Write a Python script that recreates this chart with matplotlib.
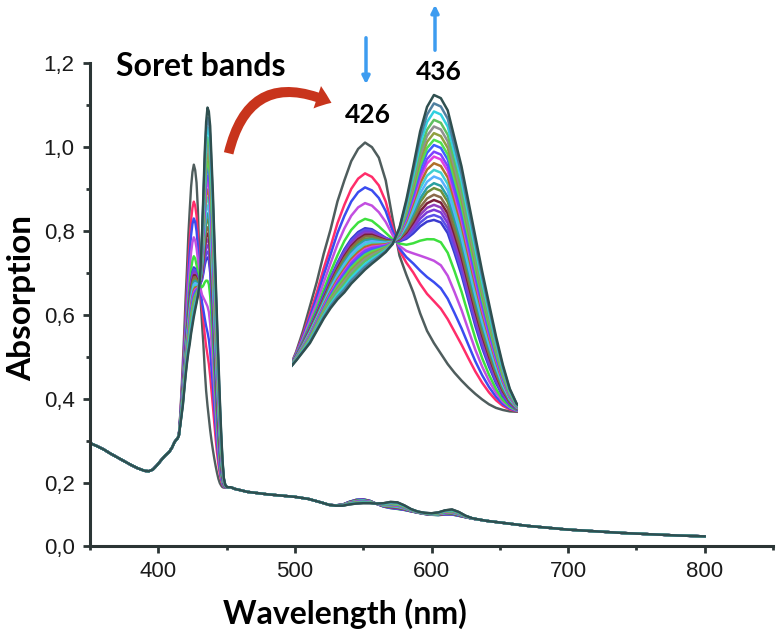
import numpy as np
import matplotlib
matplotlib.use("Agg")
import matplotlib.pyplot as plt
from matplotlib.patches import FancyArrowPatch

# ---- data ----
# common part of the spectrum left of the Soret band
wl_left = [350, 355, 360, 365, 370, 375, 380, 385, 390, 393, 396, 399, 402, 405, 408, 410, 412]
abs_left = [0.295, 0.288, 0.280, 0.270, 0.261, 0.252, 0.243, 0.235, 0.229, 0.228, 0.232,
            0.242, 0.254, 0.265, 0.274, 0.284, 0.298]

# Soret band, 1 nm steps: initial (grey), intermediate and final spectra
wl_soret = list(range(413, 453))
abs_initial = [0.302, 0.306, 0.312, 0.360, 0.420, 0.490, 0.560, 0.640, 0.710, 0.790,
               0.850, 0.905, 0.940, 0.958, 0.945, 0.915, 0.850, 0.740, 0.635, 0.580,
               0.530, 0.470, 0.420, 0.385, 0.355, 0.325, 0.300, 0.278, 0.258, 0.240,
               0.224, 0.210, 0.200, 0.194, 0.190, 0.189, 0.189, 0.189, 0.190, 0.190]
abs_middle = [0.302, 0.306, 0.312, 0.350, 0.390, 0.435, 0.480, 0.530, 0.580, 0.625,
              0.665, 0.695, 0.715, 0.725, 0.720, 0.705, 0.690, 0.678, 0.672, 0.672,
              0.680, 0.692, 0.700, 0.702, 0.695, 0.665, 0.610, 0.550, 0.480, 0.410,
              0.350, 0.300, 0.258, 0.225, 0.205, 0.194, 0.191, 0.190, 0.190, 0.190]
abs_final = [0.302, 0.306, 0.312, 0.335, 0.360, 0.385, 0.420, 0.455, 0.485, 0.510,
             0.530, 0.555, 0.575, 0.595, 0.612, 0.628, 0.645, 0.668, 0.715, 0.795,
             0.890, 0.990, 1.060, 1.094, 1.085, 1.050, 0.970, 0.890, 0.790, 0.690,
             0.590, 0.497, 0.405, 0.323, 0.255, 0.212, 0.196, 0.191, 0.190, 0.190]

# right of the Soret band (Q bands); the intermediate form has its own Q bands
wl_right = [453, 456, 460, 465, 470, 480, 490, 500, 510, 520, 525, 530, 535, 540, 545,
            550, 555, 560, 565, 570, 575, 580, 585, 590, 595, 600, 605, 610, 615, 620,
            625, 630, 640, 650, 660, 670, 680, 690, 700, 720, 740, 760, 780, 800]
abs_right = [0.190, 0.186, 0.183, 0.179, 0.177, 0.173, 0.170, 0.167, 0.162, 0.153,
             0.148, 0.146, 0.146, 0.149, 0.151, 0.152, 0.152, 0.151, 0.152, 0.155,
             0.154, 0.147, 0.138, 0.132, 0.129, 0.128, 0.130, 0.135, 0.137, 0.131,
             0.122, 0.116, 0.110, 0.106, 0.102, 0.098, 0.095, 0.092, 0.089, 0.085,
             0.081, 0.078, 0.075, 0.073]
abs_right_middle = [0.190, 0.186, 0.183, 0.179, 0.177, 0.173, 0.170, 0.167, 0.162, 0.153,
                    0.148, 0.147, 0.149, 0.156, 0.161, 0.162, 0.158, 0.150, 0.143, 0.139,
                    0.137, 0.135, 0.132, 0.129, 0.126, 0.124, 0.123, 0.124, 0.124, 0.121,
                    0.118, 0.115, 0.110, 0.106, 0.102, 0.098, 0.095, 0.092, 0.089, 0.085,
                    0.081, 0.078, 0.075, 0.073]

# peak heights of the titration curves
peak_426_first = [0.87, 0.83, 0.785, 0.74]          # red, blue, purple, green
peak_436_later = [0.737, 0.751, 0.766, 0.780, 0.794, 0.809, 0.828, 0.842, 0.861, 0.880,
                  0.899, 0.918, 0.932, 0.951, 0.966, 0.985, 1.004, 1.023, 1.047, 1.070, 1.094]

colors = ['#4f5d5d', '#ff2d6a', '#3a4cf0', '#c24ee0', '#3ee03e',
          '#3b3bd0', '#5a50e8', '#7a3ad8', '#9040c0', '#7a1f3a', '#8a6a4a', '#6f8f3a',
          '#2aa0a0', '#5ab0ff', '#40d0d0', '#b0702a', '#e040e0', '#8040ff', '#4060ff',
          '#50e050', '#90a040', '#909090', '#60c060', '#30d0e0', '#5080a0', '#2f4f4f']

xticks = [400, 500, 600, 700, 800]
yticks = [0.05, 0.2, 0.4, 0.6, 0.8, 1.0, 1.2]
ytick_labels = ['0,0', '0,2', '0,4', '0,6', '0,8', '1,0', '1,2']

# ---- build curves ----
wl = np.array(wl_left + wl_soret + wl_right, dtype=float)
spec_a = np.array(abs_left + abs_initial + abs_right)
spec_m = np.array(abs_left + abs_middle + abs_right_middle)
spec_b = np.array(abs_left + abs_final + abs_right)
i426 = int(np.where(wl == 426)[0][0])
i436 = int(np.where(wl == 436)[0][0])

curves = [spec_a]
for h in peak_426_first:
    g = (spec_a[i426] - h) / (spec_a[i426] - spec_m[i426])
    curves.append((1 - g) * spec_a + g * spec_m)
for h in peak_436_later:
    f = (h - spec_m[i436]) / (spec_b[i436] - spec_m[i436])
    curves.append((1 - f) * spec_m + f * spec_b)

W, H = 779, 641
fig = plt.figure(figsize=(W / 100, H / 100), dpi=100)


def fx(x):
    return x / W


def fy(y):
    return 1 - y / H


ax = fig.add_axes([fx(90), fy(546), fx(773) - fx(90), fy(63) - fy(546)])
for c, y in zip(colors, curves):
    ax.plot(wl, y, color=c, lw=1.7)

ax.set_xlim(350, 850)
ax.set_ylim(0.05, 1.2)
ax.set_xticks(xticks)
ax.set_xticks([350, 450, 550, 650, 750, 850], minor=True)
ax.set_yticks(yticks)
ax.set_yticklabels(ytick_labels)
ax.set_yticks([0.3, 0.5, 0.7, 0.9, 1.1], minor=True)
ax.spines['top'].set_visible(False)
ax.spines['right'].set_visible(False)
for s in ['left', 'bottom']:
    ax.spines[s].set_color('#2b3535')
    ax.spines[s].set_linewidth(2.2)
ax.tick_params(which='major', direction='out', length=5, width=2, color='#2b3535',
               labelsize=16, pad=6, labelcolor='#1a1a1a')
ax.tick_params(which='minor', direction='out', length=3, width=2, color='#2b3535')
for lab in ax.get_xticklabels() + ax.get_yticklabels():
    lab.set_fontfamily('Liberation Sans')

fig.text(fx(345), fy(614), 'Wavelength (nm)', ha='center', va='center',
         fontsize=23, fontweight='bold', family='Lato')
fig.text(fx(22), fy(298), 'Absorption', ha='center', va='center', rotation=90,
         fontsize=24, fontweight='bold', family='Lato')

# inset: enlarged Soret region
ins = fig.add_axes([fx(292), fy(425), fx(518) - fx(292), fy(88) - fy(425)])
for c, y in zip(colors, curves):
    ins.plot(wl, y, color=c, lw=1.8)
ins.set_xlim(415.4, 448.2)
ins.set_ylim(0.151, 1.114)
ins.axis('off')

fig.text(fx(201), fy(67), 'Soret bands', ha='center', va='center',
         fontsize=23, fontweight='bold', family='Lato')
fig.text(fx(368), fy(115), '426', ha='center', va='center',
         fontsize=19, fontweight='bold', family='Lato')
fig.text(fx(439), fy(72), '436', ha='center', va='center',
         fontsize=19, fontweight='bold', family='Lato')

blue = '#3d9cf0'
fig.add_artist(FancyArrowPatch((fx(366), fy(35)), (fx(366), fy(87)), transform=fig.transFigure,
                               arrowstyle='-|>', mutation_scale=11, lw=2.5, color=blue))
fig.add_artist(FancyArrowPatch((fx(435), fy(53)), (fx(435), fy(2)), transform=fig.transFigure,
                               arrowstyle='-|>', mutation_scale=11, lw=2.5, color=blue))
fig.add_artist(FancyArrowPatch((fx(228), fy(156)), (fx(334), fy(104)), transform=fig.transFigure,
                               connectionstyle='arc3,rad=-0.62',
                               arrowstyle='simple,head_length=11,head_width=17,tail_width=7',
                               color='#c8341c', lw=0))

fig.savefig('out.png', dpi=100)
